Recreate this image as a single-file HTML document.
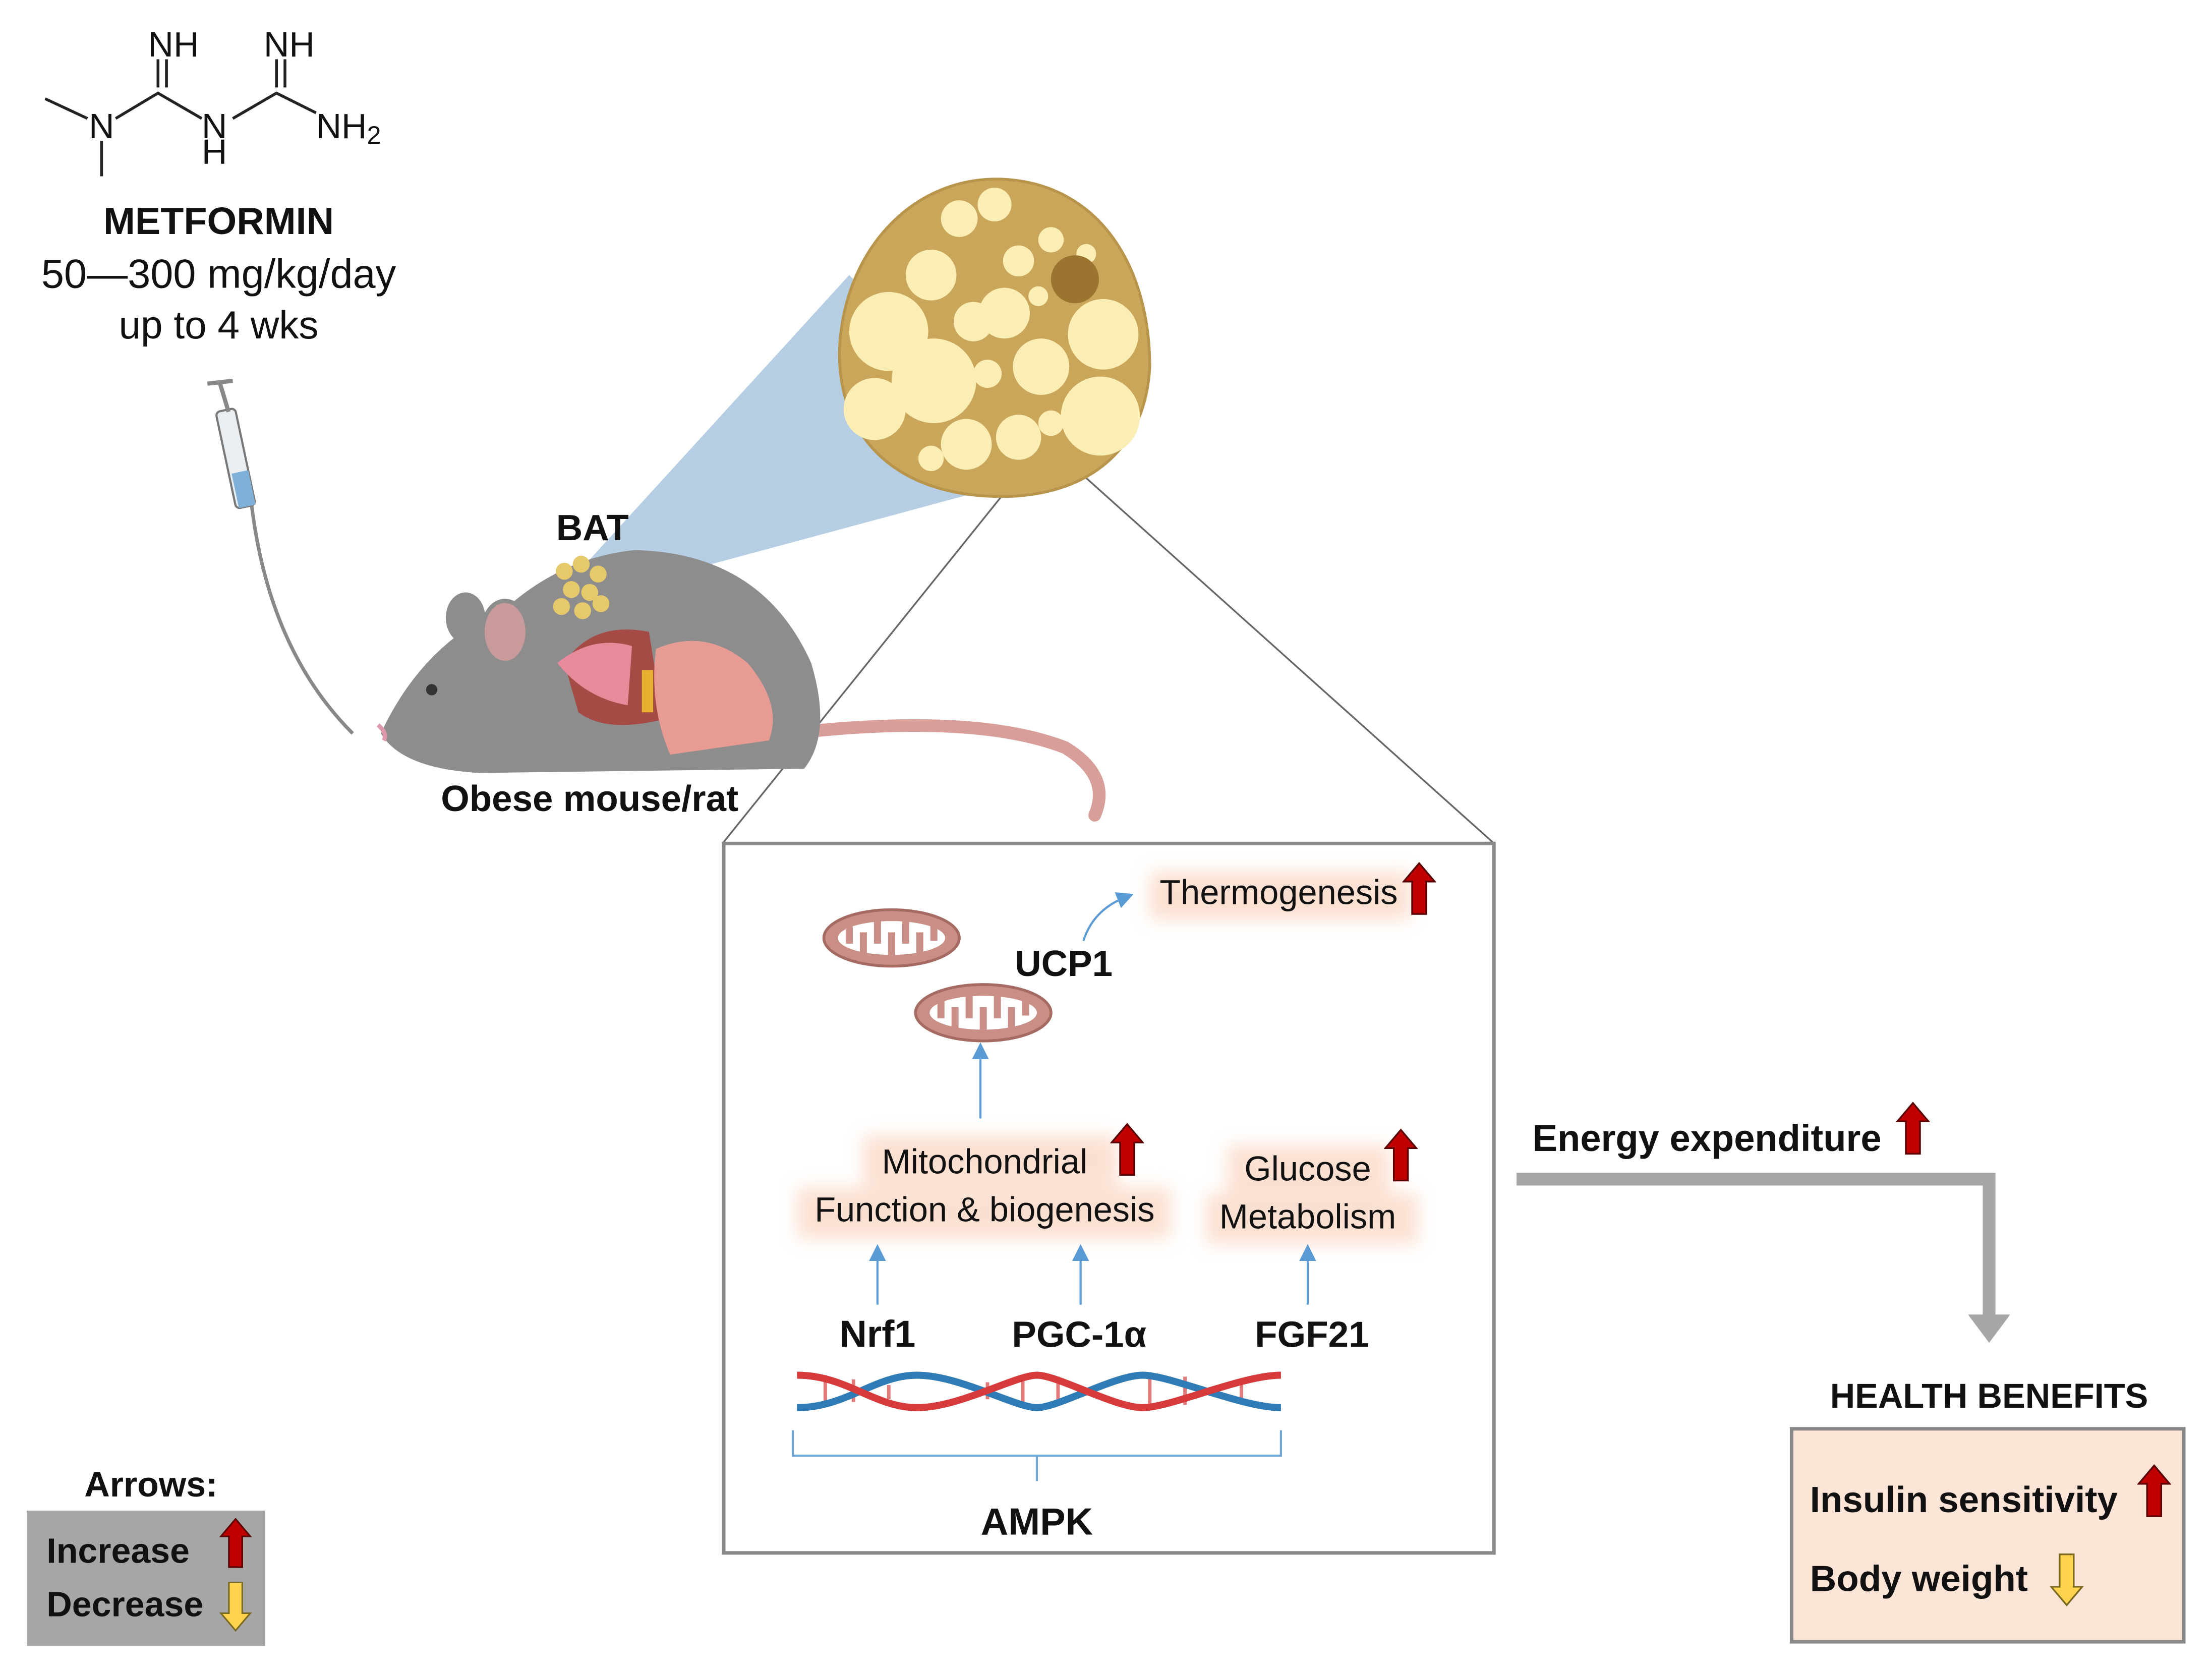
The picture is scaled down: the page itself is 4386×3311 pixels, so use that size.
<!DOCTYPE html>
<html><head><meta charset="utf-8"><style>
html,body{margin:0;padding:0;background:#fff}
svg{display:block}
text{font-family:"Liberation Sans",sans-serif;fill:#111}
.b{font-weight:bold}
</style></head><body>
<svg width="4386" height="3311" viewBox="0 0 1568 1184" preserveAspectRatio="none" xmlns="http://www.w3.org/2000/svg">
<defs>
<symbol id="up" viewBox="0 0 24 38"><path d="M12 1 L23 14 L17 14 L17 37 L7 37 L7 14 L1 14 Z" fill="#c00000" stroke="#5a0000" stroke-width="1.2"/></symbol>
<symbol id="down" viewBox="0 0 24 38"><path d="M12 37 L23 24 L17 24 L17 1 L7 1 L7 24 L1 24 Z" fill="#ffd34d" stroke="#7a6a20" stroke-width="1.2"/></symbol>
<filter id="glow" x="-20%" y="-50%" width="140%" height="200%"><feGaussianBlur stdDeviation="6"/></filter>
<marker id="ba" markerWidth="8" markerHeight="8" refX="4" refY="4" orient="auto"><path d="M0 0 L8 4 L0 8 Z" fill="#5b9bd5"/></marker>
<g id="mito"><ellipse cx="0" cy="0" rx="48" ry="20" fill="#c98f86" stroke="#a56a62" stroke-width="2"/><ellipse cx="0" cy="0" rx="38" ry="12" fill="#fff"/>
<path d="M-30 -12 V4 M-20 12 V-4 M-10 -12 V4 M0 12 V-4 M10 -12 V4 M20 12 V-4 M30 -12 V2" stroke="#c98f86" stroke-width="5"/></g>
</defs>

<!-- chemical structure -->
<g stroke="#222" stroke-width="2" fill="none">
<path d="M32 70 L62 84 M72 100 L72 125 M82 84 L112 66 L143 84 M112 62 L112 42 M118 62 L118 42 M165 84 L196 66 L224 80 M196 62 L196 42 M202 62 L202 42"/>
</g>
<text x="123" y="40" font-size="25" text-anchor="middle">NH</text>
<text x="205" y="40" font-size="25" text-anchor="middle">NH</text>
<text x="72" y="98" font-size="25" text-anchor="middle">N</text>
<text x="152" y="98" font-size="25" text-anchor="middle">N</text>
<text x="152" y="116" font-size="25" text-anchor="middle">H</text>
<text x="224" y="98" font-size="25">NH<tspan font-size="18" dy="4">2</tspan></text>
<text x="155" y="166" font-size="27" class="b" text-anchor="middle">METFORMIN</text>
<text x="155" y="204" font-size="29" text-anchor="middle">50—300 mg/kg/day</text>
<text x="155" y="240" font-size="28" text-anchor="middle">up to 4 wks</text>

<!-- syringe -->
<g>
<path d="M178 355 Q190 460 250 520" stroke="#888" stroke-width="2.5" fill="none"/>
<rect x="160" y="290" width="14" height="70" rx="3" fill="#e8eef2" stroke="#777" stroke-width="1.5" transform="rotate(-12 167 325)"/>
<rect x="162" y="335" width="12" height="25" fill="#7fb0d8" transform="rotate(-12 167 325)"/>
<line x1="156" y1="272" x2="162" y2="292" stroke="#888" stroke-width="3"/>
<line x1="147" y1="272" x2="165" y2="270" stroke="#888" stroke-width="3"/>
</g>

<!-- blue cone -->
<polygon points="415,400 602,195 745,335 430,420" fill="#a8c6df" opacity="0.85"/>

<!-- lines from cell to box -->
<line x1="742" y1="312" x2="513" y2="597" stroke="#666" stroke-width="1.2"/>
<line x1="760" y1="330" x2="1058" y2="597" stroke="#666" stroke-width="1.2"/>

<!-- cell -->
<path d="M710 127 C780 130 815 190 815 260 C812 320 770 352 710 352 C640 352 595 315 595 250 C597 180 645 125 710 127 Z" fill="#caa65a" stroke="#b8954a" stroke-width="2"/>
<g fill="#fbeeb5">
<circle cx="630" cy="235" r="28"/><circle cx="620" cy="290" r="22"/><circle cx="662" cy="270" r="30"/><circle cx="660" cy="195" r="18"/><circle cx="680" cy="155" r="13"/><circle cx="705" cy="145" r="12"/><circle cx="690" cy="228" r="14"/>
<circle cx="712" cy="222" r="18"/><circle cx="722" cy="185" r="11"/><circle cx="745" cy="170" r="9"/><circle cx="738" cy="260" r="20"/><circle cx="700" cy="265" r="10"/><circle cx="782" cy="237" r="25"/>
<circle cx="780" cy="295" r="28"/><circle cx="685" cy="315" r="18"/><circle cx="722" cy="310" r="16"/><circle cx="745" cy="300" r="9"/><circle cx="660" cy="325" r="9"/><circle cx="770" cy="180" r="7"/><circle cx="736" cy="210" r="7"/>
</g>
<circle cx="762" cy="198" r="17" fill="#9b7430"/>

<!-- mouse -->
<path d="M560 520 Q690 505 755 530 Q788 550 776 578" stroke="#d89f9a" stroke-width="9" fill="none" stroke-linecap="round"/>
<path d="M270 520 Q300 455 360 430 Q400 395 450 390 Q540 392 575 470 Q590 520 570 545 L340 548 Q285 545 270 520 Z" fill="#8d8d8d"/>
<ellipse cx="330" cy="438" rx="14" ry="18" fill="#8d8d8d"/>
<ellipse cx="358" cy="448" rx="16" ry="22" fill="#c99a9a" stroke="#8d8d8d" stroke-width="3"/>
<circle cx="306" cy="489" r="4" fill="#333"/>
<path d="M268 514 Q275 520 272 525" stroke="#d9a" stroke-width="3" fill="none"/>
<g fill="#e6c96a"><circle cx="400" cy="405" r="6"/><circle cx="412" cy="400" r="6"/><circle cx="424" cy="407" r="6"/><circle cx="405" cy="418" r="6"/><circle cx="418" cy="420" r="6"/><circle cx="398" cy="430" r="6"/><circle cx="413" cy="433" r="6"/><circle cx="426" cy="428" r="6"/></g>
<path d="M400 470 Q420 440 460 448 L470 510 Q430 520 410 505 Z" fill="#a54a45"/>
<path d="M395 470 Q420 450 448 458 L445 500 Q415 495 395 470 Z" fill="#e88a9a"/>
<rect x="455" y="475" width="8" height="30" fill="#e8b030"/>
<path d="M465 460 Q500 445 530 470 Q555 500 545 525 L475 535 Q460 500 465 460 Z" fill="#e79b92"/>
<text x="420" y="383" font-size="26" class="b" text-anchor="middle">BAT</text>
<text x="418" y="575" font-size="26" class="b" text-anchor="middle">Obese mouse/rat</text>

<!-- box -->
<rect x="513" y="598" width="546" height="503" fill="#fff" stroke="#888" stroke-width="2.5"/>
<g filter="url(#glow)" fill="#fbd9c6" opacity="0.8">
<rect x="815" y="618" width="185" height="34"/>
<rect x="612" y="805" width="180" height="36"/>
<rect x="565" y="842" width="265" height="36"/>
<rect x="870" y="812" width="115" height="34"/>
<rect x="855" y="846" width="150" height="36"/>
</g>
<text x="822" y="641" font-size="24.5">Thermogenesis</text>
<use href="#up" x="994" y="611" width="24" height="38"/>
<use href="#mito" transform="translate(632,665)"/>
<use href="#mito" transform="translate(697,718)"/>
<text x="754" y="692" font-size="26" class="b" text-anchor="middle">UCP1</text>
<path d="M768 667 Q775 645 798 636" stroke="#5b9bd5" stroke-width="1.5" fill="none" marker-end="url(#ba)"/>
<line x1="695" y1="793" x2="695" y2="745" stroke="#5b9bd5" stroke-width="1.5" marker-end="url(#ba)"/>
<text x="698" y="832" font-size="24.5" text-anchor="middle">Mitochondrial</text>
<text x="698" y="866" font-size="24.5" text-anchor="middle">Function &amp; biogenesis</text>
<use href="#up" x="787" y="796" width="24" height="38"/>
<text x="927" y="837" font-size="24.5" text-anchor="middle">Glucose</text>
<text x="927" y="871" font-size="24.5" text-anchor="middle">Metabolism</text>
<use href="#up" x="981" y="800" width="24" height="38"/>
<g stroke="#5b9bd5" stroke-width="1.5" marker-end="url(#ba)">
<line x1="622" y1="925" x2="622" y2="888"/><line x1="766" y1="925" x2="766" y2="888"/><line x1="927" y1="925" x2="927" y2="888"/>
</g>
<text x="622" y="955" font-size="27" class="b" text-anchor="middle">Nrf1</text>
<text x="765" y="955" font-size="26" class="b" text-anchor="middle">PGC-1α</text>
<text x="930" y="955" font-size="26" class="b" text-anchor="middle">FGF21</text>
<!-- DNA -->
<g stroke-width="2.5">
<g stroke="#e37a7a"><line x1="585" y1="975" x2="585" y2="995"/><line x1="605" y1="978" x2="605" y2="994"/><line x1="630" y1="982" x2="630" y2="992"/><line x1="700" y1="980" x2="700" y2="992"/><line x1="725" y1="976" x2="725" y2="996"/><line x1="750" y1="976" x2="750" y2="996"/><line x1="815" y1="976" x2="815" y2="996"/><line x1="840" y1="976" x2="840" y2="996"/><line x1="880" y1="978" x2="880" y2="994"/></g>
</g>
<path d="M565 998 C600 998 620 975 650 975 S720 998 735 998 S790 975 810 975 S880 998 908 998" stroke="#2e7bb5" stroke-width="5" fill="none"/>
<path d="M565 975 C600 975 620 998 650 998 S720 975 735 975 S790 998 810 998 S880 975 908 975" stroke="#d63a3a" stroke-width="5" fill="none"/>
<path d="M562 1014 V1032 H908 V1014 M735 1032 V1050" stroke="#6fa6d6" stroke-width="1.5" fill="none"/>
<text x="735" y="1088" font-size="27" class="b" text-anchor="middle">AMPK</text>

<!-- energy expenditure -->
<text x="1210" y="816" font-size="26.5" class="b" text-anchor="middle">Energy expenditure</text>
<use href="#up" x="1344" y="781" width="24" height="38"/>
<path d="M1075 836 H1410 V935" stroke="#a6a6a6" stroke-width="9" fill="none"/>
<path d="M1395 932 L1425 932 L1410 952 Z" fill="#a6a6a6"/>
<text x="1410" y="998" font-size="24.5" class="b" text-anchor="middle">HEALTH BENEFITS</text>
<rect x="1270" y="1013" width="278" height="151" fill="#fce4d6" stroke="#888" stroke-width="2.5"/>
<text x="1283" y="1072" font-size="26" class="b">Insulin sensitivity</text>
<use href="#up" x="1515" y="1038" width="24" height="38"/>
<text x="1283" y="1128" font-size="26" class="b">Body weight</text>
<use href="#down" x="1453" y="1101" width="24" height="38"/>

<!-- legend -->
<text x="107" y="1061" font-size="25" class="b" text-anchor="middle">Arrows:</text>
<rect x="19" y="1071" width="169" height="96" fill="#a6a6a6"/>
<text x="33" y="1108" font-size="25" class="b">Increase</text>
<use href="#up" x="155" y="1076" width="24" height="36"/>
<text x="33" y="1146" font-size="25" class="b">Decrease</text>
<use href="#down" x="155" y="1121" width="24" height="36"/>
</svg>
</body></html>
